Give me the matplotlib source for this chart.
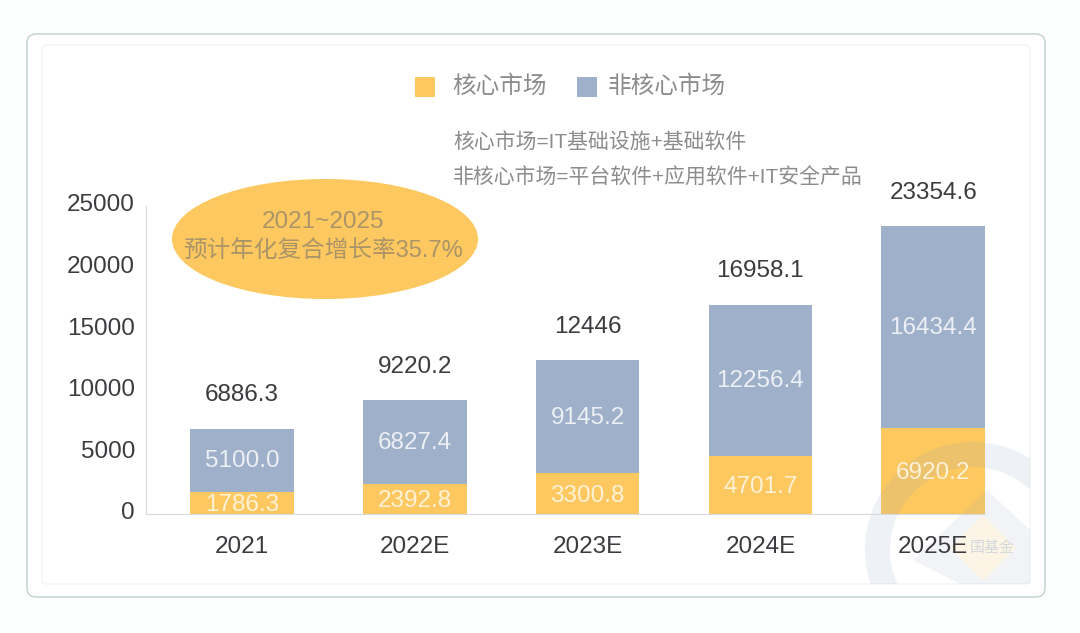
import matplotlib
matplotlib.use('Agg')
import matplotlib.pyplot as plt
from matplotlib.patches import Ellipse, FancyBboxPatch, Polygon, Rectangle, Wedge
from matplotlib.transforms import ScaledTranslation

plt.rcParams['font.family'] = ['Liberation Sans', 'Noto Sans CJK SC', 'DejaVu Sans']

years = ['2021', '2022E', '2023E', '2024E', '2025E']
core = [1786.3, 2392.8, 3300.8, 4701.7, 6920.2]
non_core = [5100.0, 6827.4, 9145.2, 12256.4, 16434.4]
totals = ['6886.3', '9220.2', '12446', '16958.1', '23354.6']
yticks = [0, 5000, 10000, 15000, 20000, 25000]

W, H = 1080, 633
YELLOW = '#fdc85f'
BLUE = '#9fb0ca'
TEXT = '#3c3c40'
GREY = '#8c8c8c'

fig = plt.figure(figsize=(W / 100, H / 100), dpi=100, facecolor='#fdfefe')

# background layer in pixel coordinates
bg = fig.add_axes([0, 0, 1, 1], zorder=0)
bg.set_xlim(0, W)
bg.set_ylim(H, 0)
bg.axis('off')
bg.add_patch(FancyBboxPatch((27, 34), 1018, 563, boxstyle='round,pad=0,rounding_size=9',
                            fc='white', ec='#bcd2cf', lw=1.0))
bg.add_patch(FancyBboxPatch((42, 45), 988, 539, boxstyle='round,pad=0,rounding_size=5',
                            fc='white', ec='#f3f4f4', lw=1.0))

# chart
ax = fig.add_axes([146 / W, 1 - 513.5 / H, (985 - 146) / W, 307.8 / H], zorder=1)
ax.patch.set_alpha(0)
ax.set_axisbelow(False)
x = list(range(len(years)))
ax.bar(x, core, width=0.6, color=YELLOW)
ax.bar(x, non_core, width=0.6, bottom=core, color=BLUE)
ax.set_xlim(-0.556, 4.3)
ax.set_ylim(0, 25000)
ax.set_xticks(x, years)
ax.set_yticks(yticks, [str(v) for v in yticks])
ax.tick_params(length=0, labelsize=17.5, colors=TEXT)
ax.tick_params(axis='x', pad=16.5)
ax.tick_params(axis='y', pad=8)
for side in ('top', 'right'):
    ax.spines[side].set_visible(False)
ax.spines['left'].set_color('#d9d9d9')
ax.spines['bottom'].set_color('#d9d9d9')

# y labels sit a little higher than the ticks in the original
shift = ScaledTranslation(0, 2 / 72, fig.dpi_scale_trans)
for lab in ax.get_yticklabels():
    lab.set_transform(lab.get_transform() + shift)

for i in x:
    ax.text(i, core[i] / 2 - 200, f'{core[i]:.1f}', ha='center', va='center',
            fontsize=17.5, color='#fdf1d6', zorder=3)
    ax.text(i, core[i] + non_core[i] / 2 - 100, f'{non_core[i]:.1f}', ha='center', va='center',
            fontsize=17.5, color='#eceff4', zorder=3)
    ax.text(i, core[i] + non_core[i] + 2700, totals[i], ha='center', va='center',
            fontsize=17.5, color=TEXT, zorder=3)

# watermark goes over the bars but under the labels, clipped to the inner card
clip = Rectangle((42, 45), 988, 539, transform=bg.transData)
ring_color = '#8ea3bf'
marks = [
    Wedge((973, 550), 108, 0, 360, width=25, fc=ring_color, ec='none', alpha=0.15),
    Polygon([(913, 560), (987, 490), (1030, 530), (1030, 584), (960, 584)],
            fc=ring_color, ec='none', alpha=0.12),
    Polygon([(983, 515), (1016, 548), (983, 581), (950, 548)], fc='#fdf6e6', ec='none', alpha=0.95),
]
for m in marks:
    m.set_transform(bg.transData)
    m.set_zorder(2)
    ax.add_artist(m)
    m.set_clip_path(clip)
ax.text(992, 548, '国基金', ha='center', va='center', fontsize=10.8, color='#d5d8dc',
        transform=bg.transData, zorder=2.2)

# overlay in pixel coordinates
top = fig.add_axes([0, 0, 1, 1], zorder=2)
top.set_xlim(0, W)
top.set_ylim(H, 0)
top.axis('off')
top.patch.set_alpha(0)

top.add_patch(Ellipse((325, 239), 306, 120, fc=YELLOW, ec='none'))
top.text(323, 222, '2021~2025', ha='center', va='center', fontsize=17.5, color='#ab9468')
top.text(323, 251, '预计年化复合增长率35.7%', ha='center', va='center', fontsize=17, color='#ab9468')

# legend
top.add_patch(Rectangle((415, 77), 20, 20, fc=YELLOW, ec='none'))
top.text(452, 87, '核心市场', ha='left', va='center', fontsize=17, color=GREY)
top.add_patch(Rectangle((577, 77), 20, 20, fc=BLUE, ec='none'))
top.text(608, 87, '非核心市场', ha='left', va='center', fontsize=17, color=GREY)

top.text(453, 142, '核心市场=IT基础设施+基础软件', ha='left', va='center', fontsize=15, color=GREY)
top.text(453, 178, '非核心市场=平台软件+应用软件+IT安全产品', ha='left', va='center', fontsize=15, color=GREY)

fig.savefig('out.png', dpi=100, facecolor=fig.get_facecolor())
